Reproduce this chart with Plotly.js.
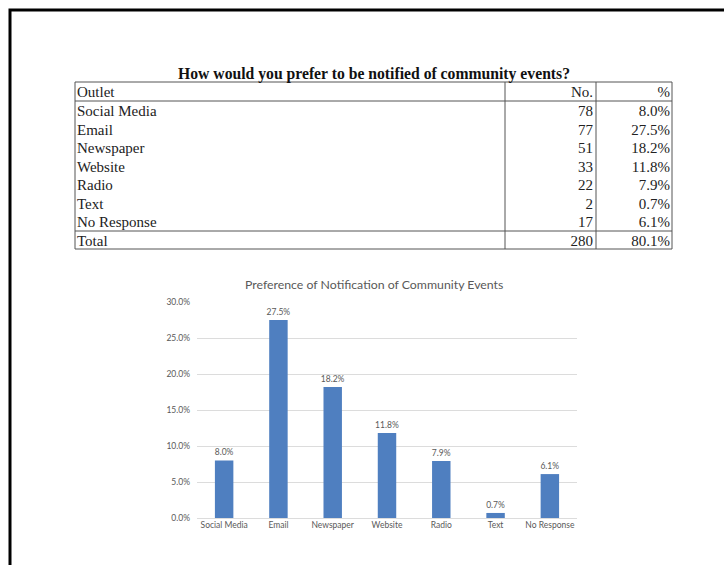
<!DOCTYPE html>
<html><head><meta charset="utf-8">
<script src="https://cdn.plot.ly/plotly-3.0.1.min.js"></script>
<style>html,body{margin:0;padding:0;background:#fff;}#chart{width:724px;height:565px;}</style>
</head><body><div id="chart"></div>
<script>
// ---- data ----
const outlets = ["Social Media","Email","Newspaper","Website","Radio","Text","No Response"];
const counts = [78,77,51,33,22,2,17];
const percents = [8.0,27.5,18.2,11.8,7.9,0.7,6.1];
const totalLabel = "Total";
const totalCount = 280;
const totalPercent = 80.1;
const tableHeader = ["Outlet","No.","%"];
const yTicks = [0,5,10,15,20,25,30];

const W = 724, H = 565;
const px = x => x / W;
const py = y => 1 - y / H;
const fmtPct = v => v.toFixed(1) + "%";

const table = {
  type: "table",
  domain: {x: [px(69), px(678)], y: [py(258), py(78)]},
  columnwidth: [436, 96, 77],
  header: {
    values: tableHeader,
    align: ["left","right","right"],
    height: 19,
    font: {family: "Liberation Serif", size: 15, color: "#222"},
    fill: {color: "rgba(0,0,0,0)"},
    line: {color: "rgba(0,0,0,0)", width: 0}
  },
  cells: {
    values: [outlets.concat([totalLabel]), counts.concat([totalCount]), percents.map(fmtPct).concat([fmtPct(totalPercent)])],
    align: ["left","right","right"],
    height: 18.5,
    font: {family: "Liberation Serif", size: 15, color: "#222"},
    fill: {color: "rgba(0,0,0,0)"},
    line: {color: "rgba(0,0,0,0)", width: 0}
  }
};

const bars = {
  type: "bar",
  x: outlets,
  y: percents,
  text: percents.map(fmtPct),
  textposition: "outside",
  constraintext: "none",
  cliponaxis: false,
  textfont: {family: "Lato", size: 8.5, color: "#595959"},
  marker: {color: "#4f7fc0"},
  hoverinfo: "none"
};

const lineC = "#555";
const hline = (x0, x1, y) => ({type:"line", xref:"paper", yref:"paper", x0:px(x0), x1:px(x1), y0:py(y), y1:py(y), line:{color:lineC, width:1}});
const vline = (x, y0, y1) => ({type:"line", xref:"paper", yref:"paper", x0:px(x), x1:px(x), y0:py(y0), y1:py(y1), line:{color:lineC, width:1}});

const layout = {
  width: W, height: H,
  margin: {l:0, r:0, t:0, b:0},
  paper_bgcolor: "#fff", plot_bgcolor: "#fff",
  showlegend: false,
  bargap: 0.66,
  xaxis: {
    domain: [px(197), px(577)],
    anchor: "y",
    tickfont: {family: "Lato", size: 8.5, color: "#595959"},
    showline: false, ticks: "", fixedrange: true
  },
  yaxis: {
    domain: [py(518), py(302)],
    anchor: "x",
    range: [0, 30],
    tickvals: yTicks,
    ticktext: yTicks.map(fmtPct),
    tickfont: {family: "Lato", size: 8.5, color: "#595959"},
    gridcolor: "#dcdcdc", gridwidth: 1,
    zeroline: true, zerolinecolor: "#dcdcdc",
    showline: false, ticks: "", ticklabelstandoff: 6, fixedrange: true
  },
  annotations: [
    {xref:"paper", yref:"paper", x:px(374), y:py(73.5), xanchor:"center", yanchor:"middle", showarrow:false,
     text:"<b>How would you prefer to be notified of community events?</b>",
     font:{family:"Liberation Serif", size:15.7, color:"#111"}},
    {xref:"paper", yref:"paper", x:px(374), y:py(284), xanchor:"center", yanchor:"middle", showarrow:false,
     text:"Preference of Notification of Community Events",
     font:{family:"Lato", size:12.3, color:"#595959"}}
  ],
  shapes: [
    // page border
    {type:"rect", xref:"paper", yref:"paper", x0:px(10), x1:px(760), y0:py(10), y1:py(600), line:{color:"#000", width:3}},
    // table grid
    {type:"rect", xref:"paper", yref:"paper", x0:px(75), x1:px(672), y0:py(82), y1:py(249), line:{color:lineC, width:1}},
    hline(75, 672, 101),
    hline(75, 672, 231),
    vline(505, 82, 249),
    vline(596, 82, 249)
  ]
};

Plotly.newPlot("chart", [table, bars], layout, {displayModeBar:false, staticPlot:true});
</script>
</body></html>
